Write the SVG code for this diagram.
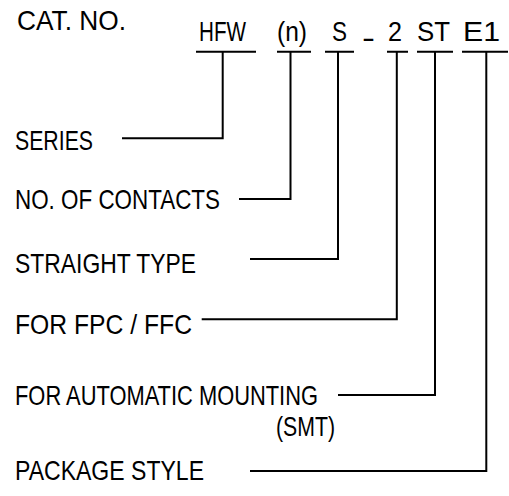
<svg xmlns="http://www.w3.org/2000/svg" width="509" height="496" viewBox="0 0 509 496">
<style>
text{font-family:"Liberation Sans","DejaVu Sans",sans-serif;font-size:28px;fill:#000}
.ln{stroke:#000;stroke-width:2;fill:none;stroke-linecap:butt}
</style>
<rect width="509" height="496" fill="#fff"/>
<g id="title"><text x="17" y="29.5" textLength="109" lengthAdjust="spacingAndGlyphs">CAT. NO.</text></g>
<g id="code">
<text x="199" y="40.5" textLength="47" lengthAdjust="spacingAndGlyphs">HFW</text>
<text x="277" y="40.5" textLength="30" lengthAdjust="spacingAndGlyphs">(n)</text>
<text x="332" y="40.5" textLength="15" lengthAdjust="spacingAndGlyphs">S</text>
<text x="362" y="47" textLength="13" lengthAdjust="spacingAndGlyphs">-</text>
<text x="388" y="40.5" textLength="14" lengthAdjust="spacingAndGlyphs">2</text>
<text x="417" y="40.5" textLength="33" lengthAdjust="spacingAndGlyphs">ST</text>
<text x="463" y="40.5" textLength="37" lengthAdjust="spacingAndGlyphs">E1</text>
</g>
<g id="series"><text x="15" y="149.5" textLength="78" lengthAdjust="spacingAndGlyphs">SERIES</text></g>
<g id="contacts"><text x="15" y="208.5" textLength="205" lengthAdjust="spacingAndGlyphs">NO. OF CONTACTS</text></g>
<g id="straight"><text x="15" y="272.5" textLength="181" lengthAdjust="spacingAndGlyphs">STRAIGHT TYPE</text></g>
<g id="fpc"><text x="15" y="333.5" textLength="177" lengthAdjust="spacingAndGlyphs">FOR FPC / FFC</text></g>
<g id="smt"><text x="15" y="405" textLength="303" lengthAdjust="spacingAndGlyphs">FOR AUTOMATIC MOUNTING</text>
<text x="276" y="435.5" textLength="59" lengthAdjust="spacingAndGlyphs">(SMT)</text></g>
<g id="package"><text x="15" y="480" textLength="189" lengthAdjust="spacingAndGlyphs">PACKAGE STYLE</text></g>
<g id="connectors" class="ln">
<path class="ln" d="M196 51.7H256M277 51.7H311M325 51.7H354M387 51.7H408M417 51.7H453M462 51.7H508"/>
<path class="ln" d="M222.7 51.7V138.3H122"/>
<path class="ln" d="M290.5 51.7V199H239"/>
<path class="ln" d="M338 51.7V259H250"/>
<path class="ln" d="M396.8 51.7V319.3H201.7"/>
<path class="ln" d="M435 51.7V395H338"/>
<path class="ln" d="M486.3 51.7V471H250"/>
</g>
</svg>
